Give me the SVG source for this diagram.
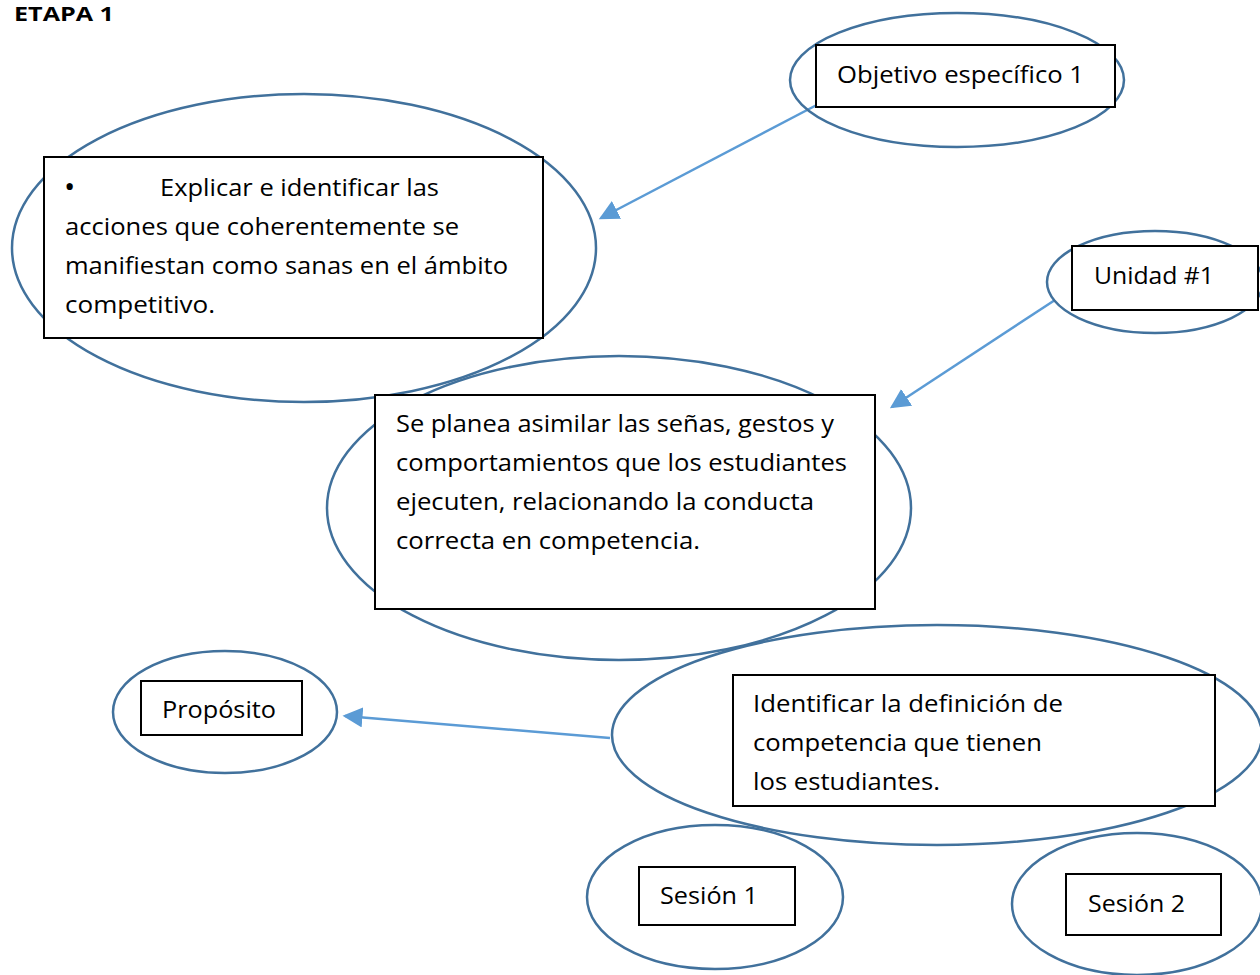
<svg xmlns="http://www.w3.org/2000/svg" width="1260" height="975" viewBox="0 0 1260 975">
<defs>
<style>
.ell{fill:none;stroke:#41719C;stroke-width:2.5}
.box{fill:#fff;stroke:#000;stroke-width:2}
.t{font-family:"Open Sans","Liberation Sans",Arial,sans-serif;font-size:24.5px;fill:#000}
.h{font-family:"Open Sans","Liberation Sans",Arial,sans-serif;font-size:20px;font-weight:bold;fill:#000}
.con{stroke:#5B9BD5;stroke-width:2.5;fill:none;marker-end:url(#ah)}
</style>
<marker id="ah" markerWidth="9" markerHeight="8" refX="7" refY="4" orient="auto" markerUnits="strokeWidth">
<path d="M0,0 L8,4 L0,8 z" fill="#5B9BD5"/>
</marker>
</defs>
<rect width="1260" height="975" fill="#fff"/>
<text class="h" x="14" y="21" textLength="100" lengthAdjust="spacingAndGlyphs">ETAPA 1</text>
<g id="ellipses">
<ellipse class="ell" cx="304" cy="248" rx="292" ry="154"/>
<ellipse class="ell" cx="619" cy="508" rx="292" ry="152"/>
<ellipse class="ell" cx="937" cy="735" rx="325" ry="110"/>
</g>
<g id="connectors">
<line class="con" x1="832" y1="97" x2="601" y2="218"/>
<line class="con" x1="1055" y1="300" x2="892" y2="407"/>
<line class="con" x1="610" y1="738" x2="345" y2="716"/>
</g>
<g id="objetivo">
<ellipse class="ell" cx="957" cy="80" rx="167" ry="67"/>
<rect class="box" x="816" y="45" width="299" height="62"/>
<text class="t" x="837" y="83" textLength="247" lengthAdjust="spacingAndGlyphs">Objetivo específico 1</text>
</g>
<g id="explicar">
<rect class="box" x="44" y="157" width="499" height="181"/>
<text class="t" x="64" y="197" style="font-size:30px">•</text>
<text class="t" x="160" y="196" textLength="279" lengthAdjust="spacingAndGlyphs">Explicar e identificar las</text>
<text class="t" x="65" y="235" textLength="394" lengthAdjust="spacingAndGlyphs">acciones que coherentemente se</text>
<text class="t" x="65" y="274" textLength="443" lengthAdjust="spacingAndGlyphs">manifiestan como sanas en el ámbito</text>
<text class="t" x="65" y="313" textLength="150" lengthAdjust="spacingAndGlyphs">competitivo.</text>
</g>
<g id="unidad">
<ellipse class="ell" cx="1155" cy="282" rx="108" ry="51"/>
<rect class="box" x="1072" y="246" width="186" height="64"/>
<text class="t" x="1094" y="284" textLength="120" lengthAdjust="spacingAndGlyphs">Unidad #1</text>
</g>
<g id="central">
<rect class="box" x="375" y="395" width="500" height="214"/>
<text class="t" x="396" y="432" textLength="438" lengthAdjust="spacingAndGlyphs">Se planea asimilar las señas, gestos y</text>
<text class="t" x="396" y="471" textLength="451" lengthAdjust="spacingAndGlyphs">comportamientos que los estudiantes</text>
<text class="t" x="396" y="510" textLength="418" lengthAdjust="spacingAndGlyphs">ejecuten, relacionando la conducta</text>
<text class="t" x="396" y="549" textLength="304" lengthAdjust="spacingAndGlyphs">correcta en competencia.</text>
</g>
<g id="proposito">
<ellipse class="ell" cx="225" cy="712" rx="112" ry="61"/>
<rect class="box" x="141" y="681" width="161" height="54"/>
<text class="t" x="162" y="718" textLength="114" lengthAdjust="spacingAndGlyphs">Propósito</text>
</g>
<g id="identificar">
<rect class="box" x="733" y="675" width="482" height="131"/>
<text class="t" x="753" y="712" textLength="310" lengthAdjust="spacingAndGlyphs">Identificar la definición de</text>
<text class="t" x="753" y="751" textLength="289" lengthAdjust="spacingAndGlyphs">competencia que tienen</text>
<text class="t" x="753" y="790" textLength="187" lengthAdjust="spacingAndGlyphs">los estudiantes.</text>
</g>
<g id="sesion1">
<ellipse class="ell" cx="715" cy="897" rx="128" ry="72"/>
<rect class="box" x="639" y="867" width="156" height="58"/>
<text class="t" x="660" y="904" textLength="98" lengthAdjust="spacingAndGlyphs">Sesión 1</text>
</g>
<g id="sesion2">
<ellipse class="ell" cx="1137" cy="904" rx="125" ry="71"/>
<rect class="box" x="1066" y="874" width="155" height="61"/>
<text class="t" x="1088" y="912" textLength="97" lengthAdjust="spacingAndGlyphs">Sesión 2</text>
</g>
</svg>
